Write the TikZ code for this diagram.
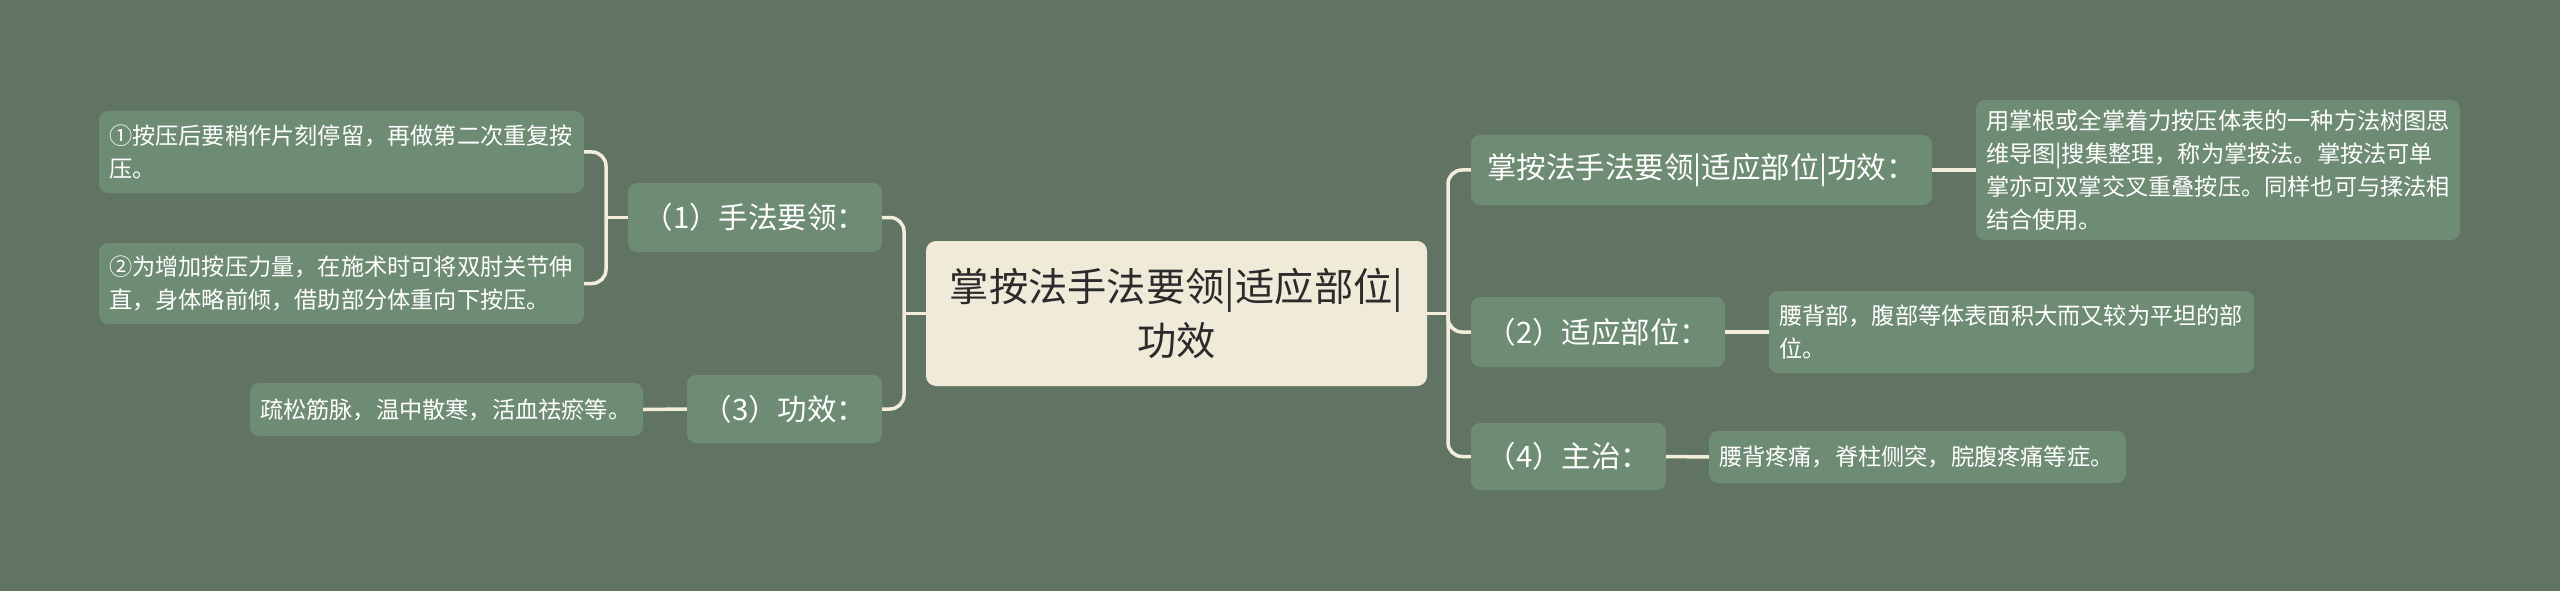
\documentclass[tikz,border=0pt]{standalone}
\usepackage{fontspec}
\newfontfamily\cjk{Noto Sans CJK SC}
\definecolor{bg}{HTML}{617463}
\definecolor{nodefill}{HTML}{6E8B74}
\definecolor{centerfill}{HTML}{F0EAD9}
\definecolor{linec}{HTML}{F3EEDC}
\definecolor{darktext}{HTML}{2B2B2B}
\tikzset{
  conn/.style={draw=linec, line width=3.5pt, rounded corners=14pt},
  leafbox/.style={fill=nodefill, rounded corners=9pt, text=white, align=left,
    inner xsep=10pt, inner ysep=0pt, font=\cjk\fontsize{23.2}{33}\selectfont},
  midbox/.style={fill=nodefill, rounded corners=9pt, text=white, align=center,
    inner sep=0pt, font=\cjk\fontsize{29.5}{36}\selectfont},
  rootbox/.style={fill=centerfill, rounded corners=10pt, text=darktext, align=center,
    inner sep=0pt, font=\cjk\fontsize{39.3}{54}\selectfont}
}
\begin{document}
\begin{tikzpicture}[x=1pt,y=-1pt]
\fill[bg] (0,0) rectangle (2560,591);
\useasboundingbox (0,0) rectangle (2560,591);

% root
\node[rootbox, minimum width=501pt, minimum height=145pt] (c) at (1176.5,313.5) {掌按法手法要领|适应部位|\\功效};

% left side
\node[midbox, minimum width=254pt, minimum height=69pt] (n1) at (755,217.5) {（1）手法要领：};
\node[midbox, minimum width=195pt, minimum height=68pt] (n3) at (784.5,409) {（3）功效：};
\node[leafbox, text width=465pt, minimum height=82pt] (la) at (341.5,152) {①按压后要稍作片刻停留，再做第二次重复按\\压。};
\node[leafbox, text width=465pt, minimum height=81pt] (lb) at (341.5,283.5) {②为增加按压力量，在施术时可将双肘关节伸\\直，身体略前倾，借助部分体重向下按压。};
\node[leafbox, text width=373pt, minimum height=53pt] (l3) at (446.5,409.5) {疏松筋脉，温中散寒，活血祛瘀等。};

% right side
\node[midbox, minimum width=461pt, minimum height=70pt] (r1) at (1701.5,170) {掌按法手法要领|适应部位|功效：};
\node[midbox, minimum width=254pt, minimum height=70pt] (r2) at (1598,332) {（2）适应部位：};
\node[midbox, minimum width=195pt, minimum height=67pt] (r4) at (1568.5,456.5) {（4）主治：};
\node[leafbox, text width=464pt, minimum height=140pt] (s1) at (2218,170) {用掌根或全掌着力按压体表的一种方法树图思\\维导图|搜集整理，称为掌按法。掌按法可单\\掌亦可双掌交叉重叠按压。同样也可与揉法相\\结合使用。};
\node[leafbox, text width=465pt, minimum height=82pt] (s2) at (2011.5,332) {腰背部，腹部等体表面积大而又较为平坦的部\\位。};
\node[leafbox, text width=397pt, minimum height=52pt] (s4) at (1917.5,457) {腰背疼痛，脊柱侧突，脘腹疼痛等症。};

% junctions
\coordinate (jl) at (904,313.5);
\coordinate (jr) at (1448,313.5);
\coordinate (j1) at (606,217.5);

% connectors
\draw[conn] (c.west) -- (jl);
\draw[conn] (n1.east) -| (jl);
\draw[conn] (n3.east) -| (jl);
\draw[conn] (n1.west) -- (j1);
\draw[conn] (la.east) -| (j1);
\draw[conn] (lb.east) -| (j1);
\draw[conn] (n3.west) -- (l3.east);

\draw[conn] (c.east) -- (jr);
\draw[conn] (r1.west) -| (jr);
\draw[conn] (r2.west) -| (jr);
\draw[conn] (r4.west) -| (jr);
\draw[conn] (r1.east) -- (s1.west);
\draw[conn] (r2.east) -- (s2.west);
\draw[conn] (r4.east) -- (s4.west);
\end{tikzpicture}
\end{document}
